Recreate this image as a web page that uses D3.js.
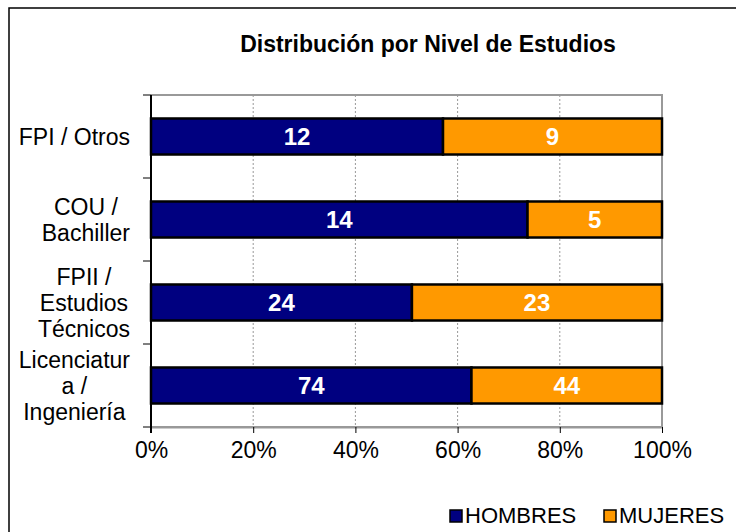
<!DOCTYPE html>
<html>
<head>
<meta charset="utf-8">
<script src="https://cdn.jsdelivr.net/npm/d3@7"></script>
<style>
  html, body { margin: 0; padding: 0; background: #fff; }
  svg { display: block; font-family: "Liberation Sans", Arial, sans-serif; }
</style>
</head>
<body>
<svg id="chart" width="736" height="532"></svg>
<script>
const title = "Distribución por Nivel de Estudios";
const categories = ["FPI / Otros", "COU / Bachiller", "FPII / Estudios Técnicos", "Licenciatura / Ingeniería"];
const categoryLines = [["FPI / Otros"], ["COU /", "Bachiller"], ["FPII /", "Estudios", "Técnicos"], ["Licenciatur", "a /", "Ingeniería"]];
const seriesNames = ["HOMBRES", "MUJERES"];
const hombres = [12, 14, 24, 74];
const mujeres = [9, 5, 23, 44];
const tickValues = [0, 0.2, 0.4, 0.6, 0.8, 1.0];
const colors = ["#000080", "#FF9900"];

const svg = d3.select("#chart");
const W = 736, H = 532;
const plot = {left: 151, right: 662, top: 95, bottom: 427};

// outer chart border (extends beyond the picture on right/bottom)
svg.append("rect").attr("x", 9).attr("y", 8).attr("width", W + 20).attr("height", H + 20)
  .attr("fill", "#fff").attr("stroke", "#000").attr("stroke-width", 1.5);

// title
svg.append("text").attr("x", 428).attr("y", 52).attr("text-anchor", "middle")
  .attr("font-size", 23).attr("font-weight", "bold").attr("fill", "#000").text(title);

const rows = categories.map((c, i) => ({cat: c, HOMBRES: hombres[i], MUJERES: mujeres[i]}));
const stacked = d3.stack().keys(seriesNames).offset(d3.stackOffsetExpand)(rows);

const x = d3.scaleLinear().domain([0, 1]).range([plot.left, plot.right]);
const y = d3.scaleBand().domain(categories).range([plot.top, plot.bottom])
  .paddingInner(0.566).paddingOuter(0.283);

// gridlines
svg.append("g").selectAll("line").data(tickValues.slice(1, -1)).join("line")
  .attr("x1", d => x(d)).attr("x2", d => x(d))
  .attr("y1", plot.top).attr("y2", plot.bottom)
  .attr("stroke", "#999").attr("stroke-width", 1).attr("stroke-dasharray", "2,2");

// plot frame (top/right/bottom gray)
svg.append("path")
  .attr("d", `M${plot.left},${plot.top}H${plot.right}V${plot.bottom}H${plot.left}`)
  .attr("fill", "none").attr("stroke", "#999").attr("stroke-width", 2);

// bars
const layers = svg.append("g").selectAll("g").data(stacked).join("g")
  .attr("fill", (d, i) => colors[i]);
layers.selectAll("rect").data(d => d).join("rect")
  .attr("x", d => x(d[0])).attr("width", d => x(d[1]) - x(d[0]))
  .attr("y", d => y(d.data.cat)).attr("height", y.bandwidth())
  .attr("stroke", "#000").attr("stroke-width", 2.5);

// value labels
stacked.forEach(layer => {
  svg.append("g").selectAll("text").data(layer).join("text")
    .attr("x", d => (x(d[0]) + x(d[1])) / 2)
    .attr("y", d => y(d.data.cat) + y.bandwidth() / 2 + 8.5)
    .attr("text-anchor", "middle").attr("font-size", 24).attr("font-weight", "bold")
    .attr("fill", "#fff").text(d => d.data[layer.key]);
});

// bottom axis
const xAxis = d3.axisBottom(x).tickValues(tickValues).tickFormat(d3.format(".0%"))
  .tickSize(6).tickSizeOuter(0).tickPadding(9);
const gx = svg.append("g").attr("transform", `translate(0,${plot.bottom})`).call(xAxis);
gx.select(".domain").attr("stroke", "#999").attr("stroke-width", 2);
gx.selectAll(".tick line").attr("stroke", "#000").attr("stroke-width", 1);
gx.selectAll(".tick text").attr("font-size", 23).attr("fill", "#000")
  .attr("font-family", "'Liberation Sans', Arial, sans-serif");

// left axis line + tick marks at band boundaries
svg.append("line").attr("x1", plot.left).attr("x2", plot.left)
  .attr("y1", plot.top).attr("y2", plot.bottom + 6)
  .attr("stroke", "#000").attr("stroke-width", 2);
const bounds = categories.map(c => y(c) - y.step() * y.paddingInner() / 2).concat([plot.bottom]);
bounds[0] = plot.top;
svg.append("g").selectAll("line").data(bounds).join("line")
  .attr("x1", plot.left - 8).attr("x2", plot.left)
  .attr("y1", d => d).attr("y2", d => d)
  .attr("stroke", "#000").attr("stroke-width", 1);

// category labels: block right-aligned at x=130, lines centered within block
const lineH = 26;
categories.forEach((c, i) => {
  const lines = categoryLines[i];
  const cy = y(c) + y.bandwidth() / 2;
  const g = svg.append("g");
  const texts = g.selectAll("text").data(lines).join("text")
    .attr("font-size", 23).attr("fill", "#000").attr("text-anchor", "middle")
    .attr("y", (d, j) => cy + (j - (lines.length - 1) / 2) * lineH + 8)
    .text(d => d);
  let maxW = 0;
  texts.each(function() { maxW = Math.max(maxW, this.getComputedTextLength()); });
  texts.attr("x", 130 - maxW / 2);
});

// legend
const legend = svg.append("g");
const legendX = [450, 604];
seriesNames.forEach((s, i) => {
  legend.append("rect").attr("x", legendX[i]).attr("y", 510).attr("width", 12).attr("height", 12)
    .attr("fill", colors[i]).attr("stroke", "#000").attr("stroke-width", 1.5);
  legend.append("text").attr("x", legendX[i] + 15).attr("y", 523)
    .attr("font-size", 22).attr("fill", "#000").text(s);
});
</script>
</body>
</html>
